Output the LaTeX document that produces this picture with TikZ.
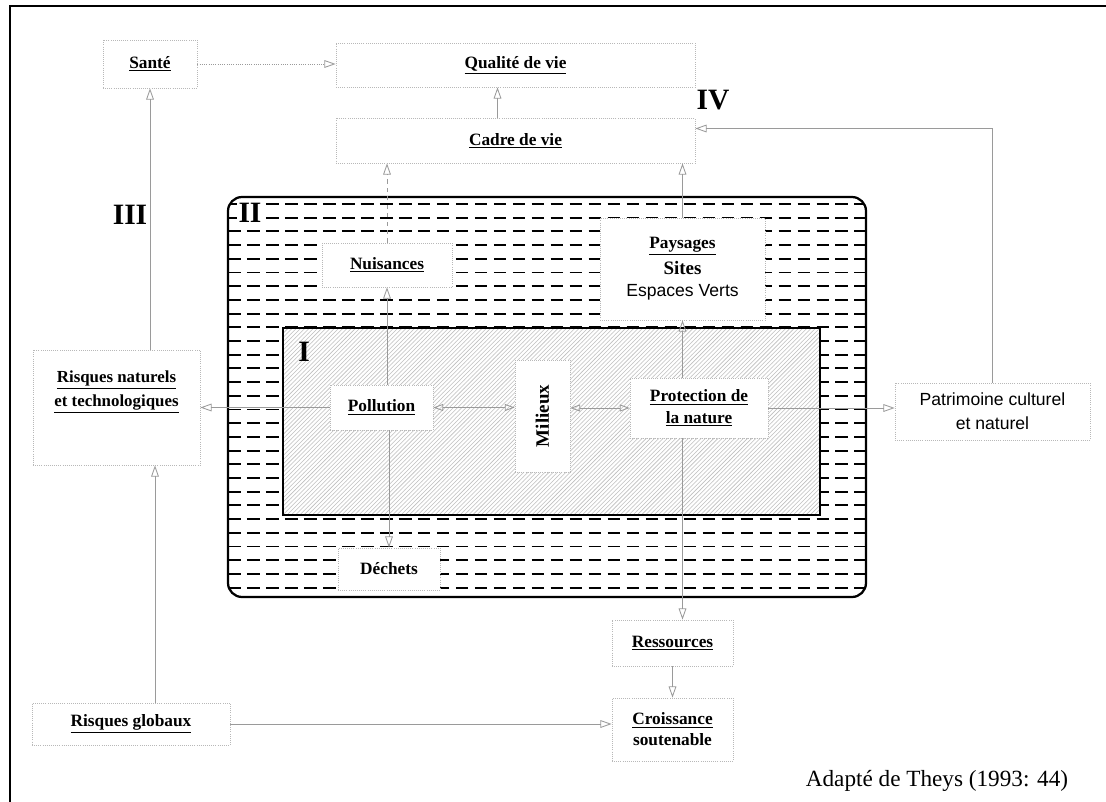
\documentclass[tikz,border=0pt]{standalone}
\usepackage{fontspec}
\setmainfont{Liberation Serif}
\newfontfamily\sansfont{Liberation Sans}
\usetikzlibrary{arrows.meta,positioning,calc,patterns}
\definecolor{linegray}{HTML}{9A9A9A}
\definecolor{boxgray}{HTML}{B8B8B8}

\begin{document}
\begin{tikzpicture}[x=0.025cm, y=-0.025cm,
    box/.style={draw=boxgray, densely dotted, line width=0.5pt, fill=white,
                align=center, inner sep=2pt,
                font=\fontsize{12.3}{15}\selectfont\bfseries},
    plainbox/.style={box, font=\sansfont\fontsize{12.5}{17}\selectfont},
    flow/.style={-{Triangle[open, length=8pt, width=5.5pt]}, draw=linegray,
                 line width=0.6pt},
    twoway/.style={flow, {Triangle[open, length=7pt, width=5pt]}-{Triangle[open, length=7pt, width=5pt]}},
    zone/.style={font=\fontsize{21}{22}\selectfont\bfseries, inner sep=1pt},
    dashrow/.style={line width=1.3pt, dash pattern=on 9pt off 4.5pt}]
  \useasboundingbox (0,0) rectangle (1106,802);
  \draw[line width=1.5pt] (10,802) -- (10,6) -- (1106,6);

  % zone II
  \begin{scope}
    \clip[rounded corners=10pt] (228,197) rectangle (866,597);
    \foreach \r in {0,...,28}
      \draw[dashrow] (228,{204+13.7*\r}) -- (866,{204+13.7*\r});
  \end{scope}
  \draw[line width=1.6pt, rounded corners=10pt] (228,197) rectangle (866,597);

  % zone I
  \fill[white] (283,328) rectangle (820,515);
  \draw[line width=1.2pt, pattern=north east lines, pattern color=gray!50]
    (283,328) rectangle (820,515);

  \node[zone] (z1) at (304,352) {I};
  \node[zone, fill=white] (z2) at (250,213) {II};
  \node[zone] (z3) at (130,215) {III};
  \node[zone] (z4) at (713,100) {IV};

  \node[box, minimum width=2.35cm, minimum height=1.2cm] (sante) at (150,64) {\underline{Santé}};
  \node[box, minimum width=8.975cm, minimum height=1.1cm] (qualite) at (515.5,65) {\underline{Qualité de vie}};
  \node[box, minimum width=8.975cm, minimum height=1.125cm] (cadre) at (515.5,140.5) {\underline{Cadre de vie}};
  \node[box, minimum width=3.25cm, minimum height=1.1cm] (nuis) at (387,265) {\underline{Nuisances}};
  \node[box, minimum width=4.125cm, minimum height=2.55cm] (pays) at (682.5,269)
    {\underline{Paysages}\\[3pt]
     \fontsize{13.5}{16}\selectfont Sites\\[1pt]
     \sansfont\mdseries\fontsize{12.5}{16}\selectfont Espaces Verts};
  \node[box, minimum width=2.575cm, minimum height=1.125cm] (poll) at (381.5,407.5) {\underline{Pollution}};
  \node[box, minimum width=1.375cm, minimum height=2.8cm] (mil) at (542.5,416)
    {\fontsize{13.5}{15}\selectfont\rotatebox{90}{Milieux}};
  \node[box, minimum width=3.45cm, minimum height=1.5cm] (prot) at (699,408)
    {\underline{Protection de}\\\underline{la nature}};
  \node[box, minimum width=2.55cm, minimum height=1.05cm] (dech) at (389,569) {Déchets};
  \node[box, minimum width=4.175cm, minimum height=2.875cm] (risqn) at (116.5,407.5) {};
  \node[font=\fontsize{12}{15}\selectfont\bfseries, align=center, below=4mm of risqn.north]
    (risqnt) {\underline{Risques naturels}\\[2pt]\underline{et technologiques}};
  \node[plainbox, minimum width=4.875cm, minimum height=1.425cm] (patr) at (992.5,411.5)
    {Patrimoine culturel\\et naturel};
  \node[box, minimum width=3.025cm, minimum height=1.15cm] (ress) at (672.5,643) {\underline{Ressources}};
  \node[box, minimum width=3.025cm, minimum height=1.575cm] (crois) at (672.5,729.5)
    {\underline{Croissance}\\soutenable};
  \node[box, minimum width=4.95cm, minimum height=1.05cm] (risqg) at (131,724) {\underline{Risques globaux}};

  \node[font=\fontsize{16.5}{18}\selectfont] (src) at (937,781) {Adapté de Theys (1993: 44)};

  % connectors
  \coordinate (cq) at ($(cadre.north)+(-18,0)$);
  \coordinate (pc) at ($(cadre.east)+(0,-12)$);
  \coordinate (gx) at ($(risqg.north)+(24,0)$);
  \draw[flow, densely dotted] (sante) -- (qualite.west |- sante);
  \draw[flow] (cq) -- (cq |- qualite.south);
  \draw[flow, dashed] (nuis.north) -- (nuis.north |- cadre.south);
  \draw[flow] (pays.north) -- (pays.north |- cadre.south);
  \draw[flow] (patr.north) |- (pc);
  \draw[flow] (prot.east) -- (prot.east -| patr.west);
  \draw[flow] (poll.west) -- (poll.west -| risqn.east);
  \draw[twoway] (poll.east) -- (poll.east -| mil.west);
  \draw[twoway] (mil.east |- prot) -- (prot.west);
  \draw[flow] (nuis.south |- poll.north) -- (nuis.south);
  \draw[flow] (dech.north |- poll.south) -- (dech.north);
  \draw[flow] (pays.south |- prot.north) -- (pays.south);
  \draw[flow] (pays.south |- prot.south) -- (pays.south |- ress.north);
  \draw[flow] (ress) -- (crois);
  \draw[flow] (risqg.east) -- (risqg.east -| crois.west);
  \draw[flow] (gx) -- (gx |- risqn.south);
  \draw[flow] (sante.south |- risqn.north) -- (sante.south);
\end{tikzpicture}
\end{document}
